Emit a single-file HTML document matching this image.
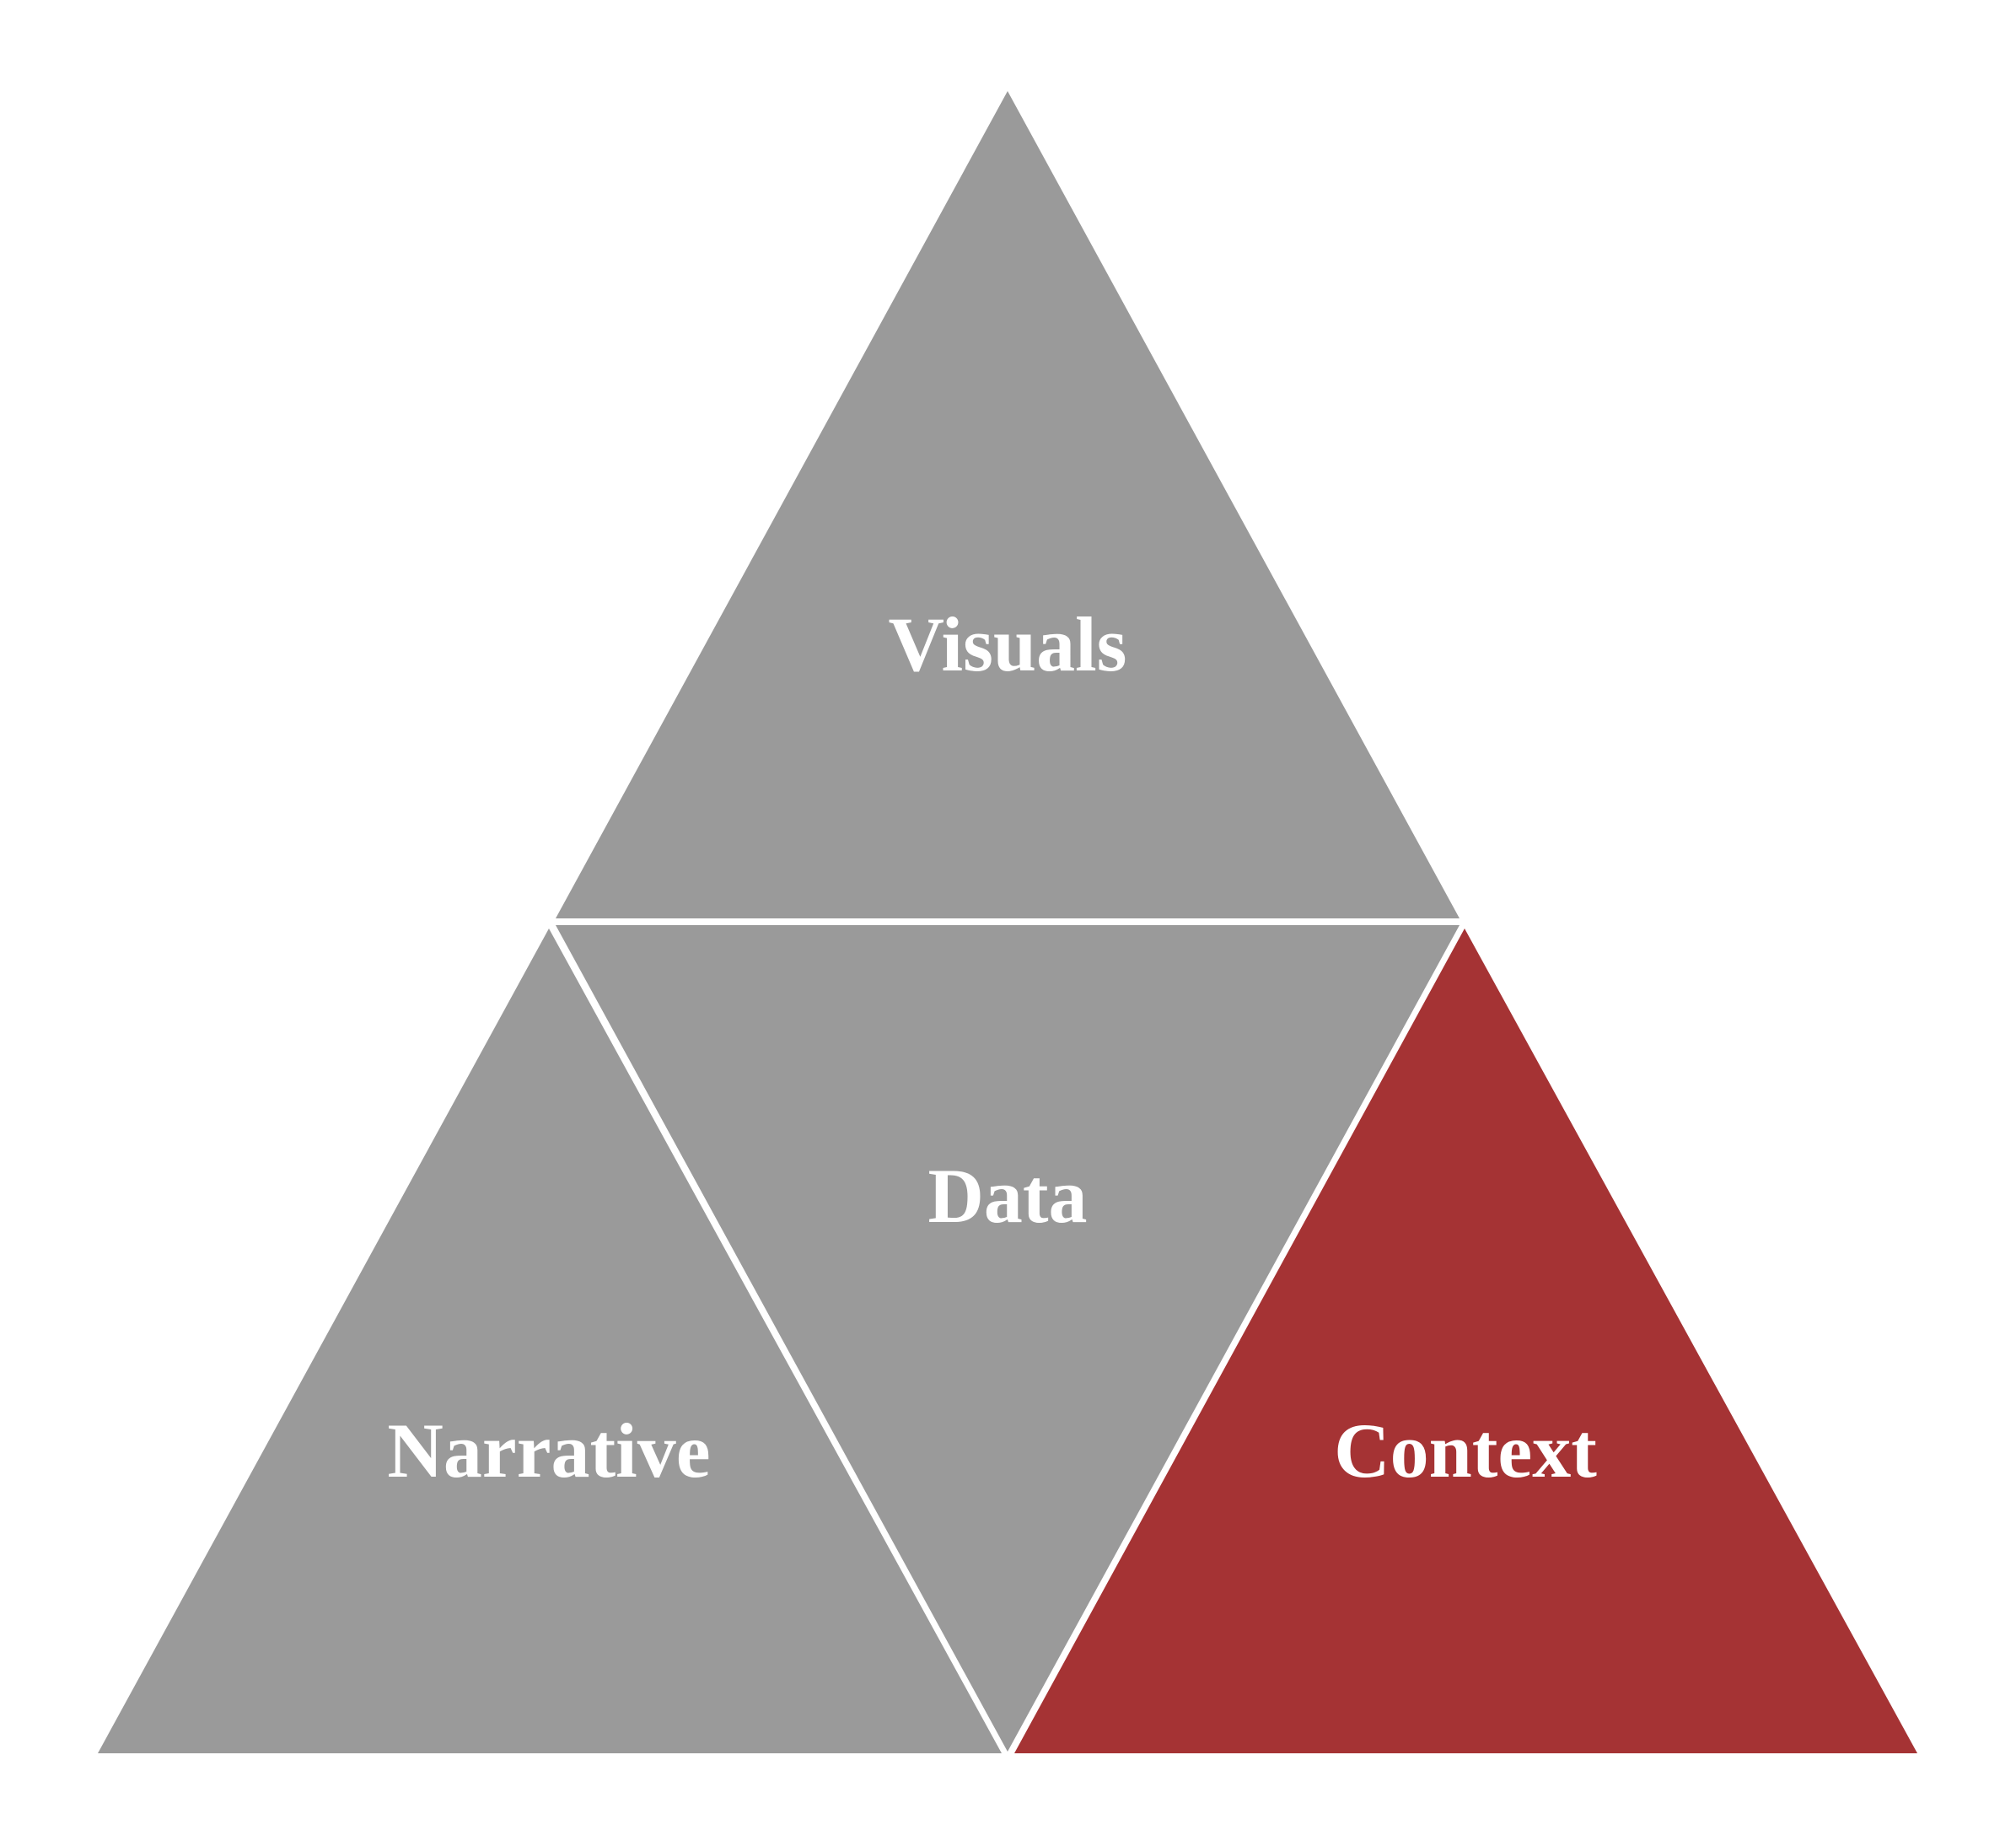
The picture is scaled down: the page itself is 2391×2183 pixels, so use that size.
<!DOCTYPE html>
<html><head><meta charset="utf-8"><style>html,body{margin:0;padding:0;background:#fff}svg{display:block}</style></head>
<body>
<svg width="2391" height="2183" viewBox="0 0 2391 2183" xmlns="http://www.w3.org/2000/svg">
<rect width="2391" height="2183" fill="#fff"/>
<polygon points="1195,108 1731,1089 659,1089" fill="#9a9a9a"/>
<polygon points="659,1097 1731,1097 1195,2077" fill="#9a9a9a"/>
<polygon points="651,1101 1188,2079 116,2079" fill="#9a9a9a"/>
<polygon points="1737,1101 2274,2079 1203,2079" fill="#a53334"/>
<g font-family="'Liberation Serif', serif" font-weight="bold" font-size="92" fill="#fff" text-anchor="middle">
<text x="1195" y="795">Visuals</text>
<text x="1195" y="1449">Data</text>
<text x="651" y="1751">Narrative</text>
<text x="1738" y="1751">Context</text>
</g>
</svg>
</body></html>
